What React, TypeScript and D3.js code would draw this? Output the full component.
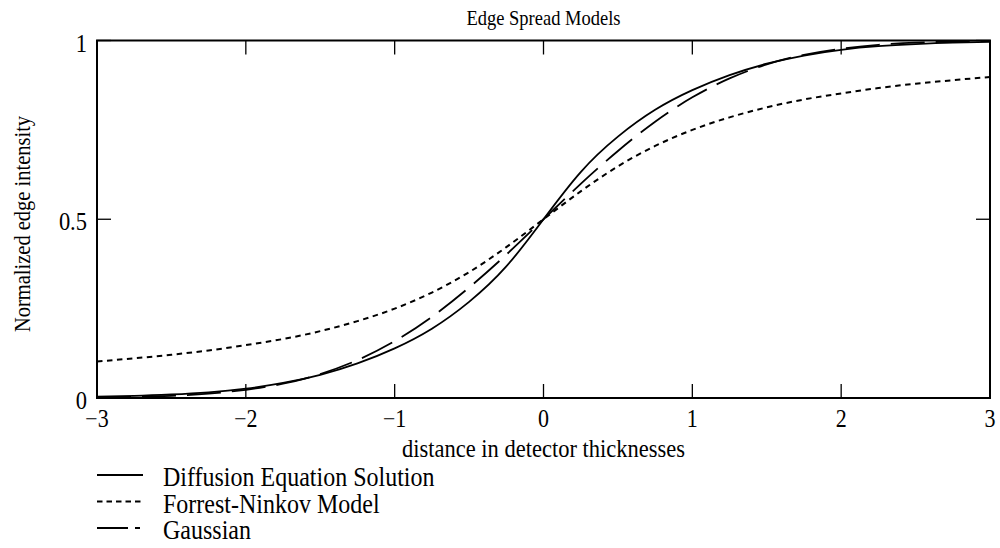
import React, { useRef, useEffect } from 'react';
import * as d3 from 'd3';

// distance in detector thicknesses (sample positions)
const xValues = [
  -3, -2.75, -2.5, -2.25, -2, -1.75, -1.5, -1.25, -1, -0.75, -0.5, -0.25, 0,
  0.25, 0.5, 0.75, 1, 1.25, 1.5, 1.75, 2, 2.25, 2.5, 2.75, 3,
];

// normalized edge intensity
const diffusion = [
  0.004, 0.006, 0.01, 0.016, 0.026, 0.042, 0.065, 0.097, 0.139, 0.194, 0.269, 0.368, 0.5,
  0.632, 0.731, 0.806, 0.861, 0.903, 0.935, 0.958, 0.974, 0.984, 0.99, 0.994, 0.996,
];
const forrestNinkov = [
  0.102, 0.111, 0.121, 0.133, 0.148, 0.165, 0.187, 0.215, 0.25, 0.295, 0.352, 0.422, 0.5,
  0.578, 0.648, 0.705, 0.75, 0.785, 0.813, 0.835, 0.852, 0.867, 0.879, 0.889, 0.898,
];
const gaussian = [
  0.001, 0.003, 0.006, 0.012, 0.023, 0.04, 0.067, 0.106, 0.159, 0.227, 0.309, 0.401, 0.5,
  0.599, 0.691, 0.773, 0.841, 0.894, 0.933, 0.96, 0.977, 0.988, 0.994, 0.997, 0.999,
];

const seriesNames = ['Diffusion Equation Solution', 'Forrest-Ninkov Model', 'Gaussian'];
const xTicks = [-3, -2, -1, 0, 1, 2, 3];
const yTicks = [0, 0.5, 1];
const yTickLabels = ['0', '0.5', '1'];

const title = 'Edge Spread Models';
const xAxisLabel = 'distance in detector thicknesses';
const yAxisLabel = 'Normalized edge intensity';

const WIDTH = 1000;
const HEIGHT = 548;
const FONT = '"Liberation Serif", "Times New Roman", serif';
const STRETCH = 1.1; // glyphs in the reference are a bit taller than wide

const App: React.FC = () => {
  const svgRef = useRef<SVGSVGElement>(null);

  useEffect(() => {
    if (!svgRef.current) return;
    const svg = d3.select(svgRef.current);
    svg.selectAll('*').remove();

    const left = 97;
    const right = 990;
    const top = 40.5;
    const bottom = 398;

    const x = d3.scaleLinear().domain([-3, 3]).range([left, right]);
    const y = d3.scaleLinear().domain([0, 1]).range([bottom, top]);

    const addText = (
      tx: number,
      ty: number,
      str: string,
      size: number,
      anchor: string,
      rotate = 0
    ) =>
      svg
        .append('text')
        .attr(
          'transform',
          `translate(${tx},${ty})${rotate ? ` rotate(${rotate})` : ''} scale(1,${STRETCH})`
        )
        .attr('text-anchor', anchor)
        .style('font-family', FONT)
        .style('font-size', `${size}px`)
        .attr('fill', '#000')
        .text(str);

    // 曲線
    const line = d3
      .line<number>()
      .x((_, i) => x(xValues[i]))
      .y((d) => y(d))
      .curve(d3.curveNatural);

    const styles = [
      { data: diffusion, dash: 'none', width: 1.8 },
      { data: forrestNinkov, dash: '5.5,4.5', width: 2 },
      { data: gaussian, dash: '34,11', width: 1.8 },
    ];

    styles.forEach((s) => {
      svg
        .append('path')
        .datum(s.data)
        .attr('d', line)
        .attr('fill', 'none')
        .attr('stroke', '#000')
        .attr('stroke-width', s.width)
        .attr('stroke-dasharray', s.dash);
    });

    // 外框
    svg
      .append('rect')
      .attr('x', left)
      .attr('y', top)
      .attr('width', right - left)
      .attr('height', bottom - top)
      .attr('fill', 'none')
      .attr('stroke', '#000')
      .attr('stroke-width', 2);

    // 刻度 (inward, all four sides)
    const tickLen = 14;
    xTicks.forEach((t) => {
      svg.append('line')
        .attr('x1', x(t)).attr('x2', x(t))
        .attr('y1', bottom).attr('y2', bottom - tickLen)
        .attr('stroke', '#000').attr('stroke-width', 1.3);
      svg.append('line')
        .attr('x1', x(t)).attr('x2', x(t))
        .attr('y1', top).attr('y2', top + tickLen)
        .attr('stroke', '#000').attr('stroke-width', 1.3);
      addText(x(t), 427, t < 0 ? `\u2212${-t}` : `${t}`, 22, 'middle');
    });

    yTicks.forEach((t, i) => {
      svg.append('line')
        .attr('x1', left).attr('x2', left + tickLen)
        .attr('y1', y(t)).attr('y2', y(t))
        .attr('stroke', '#000').attr('stroke-width', 1.3);
      svg.append('line')
        .attr('x1', right).attr('x2', right - tickLen)
        .attr('y1', y(t)).attr('y2', y(t))
        .attr('stroke', '#000').attr('stroke-width', 1.3);
      addText(left - 10, y(t) + 11, yTickLabels[i], 22.5, 'end');
    });

    // 標題與軸標籤
    addText((left + right) / 2, 25, title, 18.5, 'middle');
    addText((left + right) / 2, 457, xAxisLabel, 22.5, 'middle');
    addText(30, 224, yAxisLabel, 20.5, 'middle', -90);

    // 圖例
    const legendY = [475, 501.5, 528];
    const legendDash = ['none', '5.5,4', '31,7,5,3'];
    seriesNames.forEach((name, i) => {
      svg
        .append('line')
        .attr('x1', 97)
        .attr('x2', 143)
        .attr('y1', legendY[i])
        .attr('y2', legendY[i])
        .attr('stroke', '#000')
        .attr('stroke-width', 1.8)
        .attr('stroke-dasharray', legendDash[i]);
      addText(163, legendY[i] + 11, name, 24, 'start');
    });
  }, []);

  return (
    <svg
      ref={svgRef}
      width={WIDTH}
      height={HEIGHT}
      style={{ position: 'absolute', left: 0, top: 0, background: '#fff' }}
    />
  );
};

export default App;
